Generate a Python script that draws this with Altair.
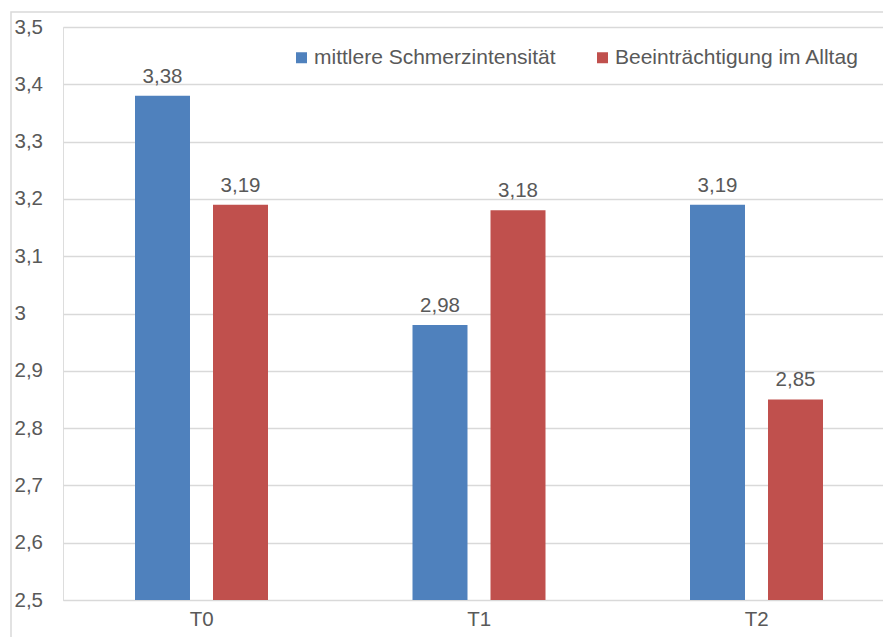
import altair as alt
import pandas as pd

# Measurement points and the two series shown for each
zeitpunkte = ["T0", "T1", "T2"]
serien = ["mittlere Schmerzintensität", "Beeinträchtigung im Alltag"]
schmerz = [3.38, 2.98, 3.19]
alltag = [3.19, 3.18, 2.85]
farben = ["#4f81bd", "#c0504d"]

rows = []
for i, t in enumerate(zeitpunkte):
    rows.append({"zeit": t, "serie": serien[0], "wert": schmerz[i]})
    rows.append({"zeit": t, "serie": serien[1], "wert": alltag[i]})
df = pd.DataFrame(rows)
df["label"] = df["wert"].map(lambda v: f"{v:.2f}".replace(".", ","))

FONT = "Liberation Sans"
TXT = "#595959"
GRID = "#d9d9d9"
FS = 20.5

x_enc = alt.X(
    "zeit:N",
    sort=zeitpunkte,
    scale=alt.Scale(range=[0, 832.5], paddingInner=0, paddingOuter=0),
    axis=alt.Axis(
        title=None, labelAngle=0, ticks=False, domain=True, domainColor=GRID,
        labelFont=FONT, labelFontSize=FS, labelColor=TXT, labelPadding=9,
    ),
)
xoff_enc = alt.XOffset(
    "serie:N",
    sort=serien,
    scale=alt.Scale(domain=serien, range=[72, 205], paddingInner=0.295, paddingOuter=0),
)
y_enc = alt.Y(
    "wert:Q",
    scale=alt.Scale(domain=[2.5, 3.5], nice=False, zero=False),
    axis=alt.Axis(
        title=None, values=[2.5 + i / 10 for i in range(11)],
        labelExpr="replace(toString(round(datum.value * 10) / 10), '.', ',')",
        ticks=False, domain=False, grid=True, gridColor=GRID, gridWidth=1.3,
        labelFont=FONT, labelFontSize=FS, labelColor=TXT,
        labelAlign="left", labelPadding=49,
    ),
)

base = alt.Chart(df)

bars = base.mark_bar(clip=True).encode(
    x=x_enc,
    xOffset=xoff_enc,
    y=y_enc,
    y2=alt.datum(2.5),
    color=alt.Color(
        "serie:N",
        sort=serien,
        scale=alt.Scale(domain=serien, range=farben),
        legend=alt.Legend(
            title=None, orient="none", direction="horizontal",
            legendX=228, legendY=20, symbolType="square", symbolSize=121,
            symbolStrokeWidth=0, labelFont=FONT, labelFontSize=21,
            labelColor=TXT, labelLimit=400, columnPadding=36,
            symbolOffset=0, labelOffset=2, padding=0,
        ),
    ),
)

labels = base.mark_text(
    baseline="bottom", dy=-9, font=FONT, fontSize=FS, color=TXT
).encode(
    x=alt.X("zeit:N", sort=zeitpunkte),
    xOffset=alt.XOffset("serie:N", sort=serien),
    y="wert:Q",
    text="label:N",
)

# Thin frame around the whole chart area
frame = alt.Chart(pd.DataFrame({"k": [0]})).mark_rect(
    fill=None, stroke=GRID, strokeWidth=1.5
).encode(
    x=alt.value(-52), x2=alt.value(900), y=alt.value(-15), y2=alt.value(700)
)

chart = (
    alt.layer(frame, bars, labels)
    .properties(
        width=820, height=573,
        padding={"left": 63, "top": 27, "right": 0, "bottom": 37},
        autosize=alt.AutoSizeParams(type="none"),
    )
    .configure_view(stroke=None)
    .configure(background="white")
)

chart.save("out.html", embed_options={"renderer": "svg", "actions": False})
